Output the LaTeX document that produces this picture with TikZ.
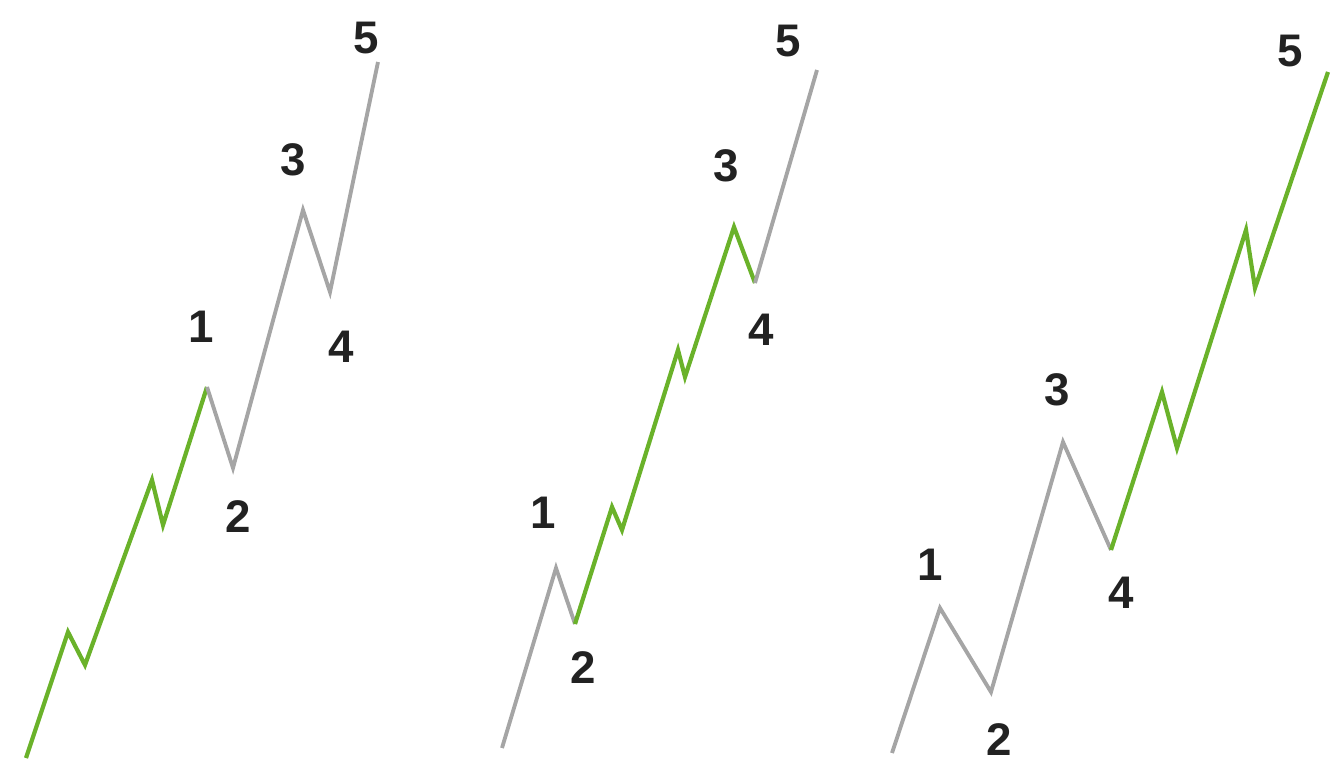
\documentclass[tikz,border=0pt]{standalone}
\usepackage{fontspec}
\setmainfont{Liberation Sans}
\definecolor{wavegreen}{RGB}{106,178,42}
\definecolor{wavegray}{RGB}{165,165,165}
\definecolor{labeldark}{RGB}{34,34,34}

\begin{document}
\begin{tikzpicture}[x=0.02cm, y=-0.02cm,
    greenleg/.style={draw=wavegreen, line width=2.4pt},
    grayleg/.style={draw=wavegray, line width=2.2pt},
    wavelabel/.style={text=labeldark, font=\fontsize{26}{30}\selectfont\bfseries, inner sep=0pt}
]
    \useasboundingbox (0,0) rectangle (1333,763);

    % left: wave 1 subdivided
    \coordinate (l0) at (26,758);
    \coordinate (la) at (68,632);
    \coordinate (lb) at (85,665);
    \coordinate (lc) at (152,480);
    \coordinate (ld) at (163,525);
    \coordinate (l1) at (207,387);
    \coordinate (l2) at (233,468);
    \coordinate (l3) at (303,210);
    \coordinate (l4) at (330,292);
    \coordinate (l5) at (378,62);
    \draw[greenleg] (l0) -- (la) -- (lb) -- (lc) -- (ld) -- (l1);
    \draw[grayleg] (l1) -- (l2) -- (l3) -- (l4) -- (l5);
    \node[wavelabel] (lt1) at (201,327) {1};
    \node[wavelabel] (lt2) at (238,517) {2};
    \node[wavelabel] (lt3) at (293,160) {3};
    \node[wavelabel] (lt4) at (341,347) {4};
    \node[wavelabel] (lt5) at (366,38) {5};

    % middle: wave 3 subdivided
    \coordinate (m0) at (502,748);
    \coordinate (m1) at (556,568);
    \coordinate (m2) at (575,624);
    \coordinate (ma) at (612,507);
    \coordinate (mb) at (622,530);
    \coordinate (mc) at (678,350);
    \coordinate (md) at (685,377);
    \coordinate (m3) at (734,227);
    \coordinate (m4) at (755,283);
    \coordinate (m5) at (817,70);
    \draw[grayleg] (m0) -- (m1) -- (m2);
    \draw[greenleg] (m2) -- (ma) -- (mb) -- (mc) -- (md) -- (m3) -- (m4);
    \draw[grayleg] (m4) -- (m5);
    \node[wavelabel] (mt1) at (543,513) {1};
    \node[wavelabel] (mt2) at (583,668) {2};
    \node[wavelabel] (mt3) at (726,166) {3};
    \node[wavelabel] (mt4) at (761,330) {4};
    \node[wavelabel] (mt5) at (788,41) {5};

    % right: wave 5 subdivided
    \coordinate (r0) at (892,753);
    \coordinate (r1) at (940,608);
    \coordinate (r2) at (991,692);
    \coordinate (r3) at (1063,442);
    \coordinate (r4) at (1111,550);
    \coordinate (ra) at (1162,392);
    \coordinate (rb) at (1177,448);
    \coordinate (rc) at (1246,230);
    \coordinate (rd) at (1255,288);
    \coordinate (r5) at (1328,72);
    \draw[grayleg] (r0) -- (r1) -- (r2) -- (r3) -- (r4);
    \draw[greenleg] (r4) -- (ra) -- (rb) -- (rc) -- (rd) -- (r5);
    \node[wavelabel] (rt1) at (930,565) {1};
    \node[wavelabel] (rt2) at (999,740) {2};
    \node[wavelabel] (rt3) at (1057,390) {3};
    \node[wavelabel] (rt4) at (1121,593) {4};
    \node[wavelabel] (rt5) at (1290,51) {5};
\end{tikzpicture}
\end{document}
